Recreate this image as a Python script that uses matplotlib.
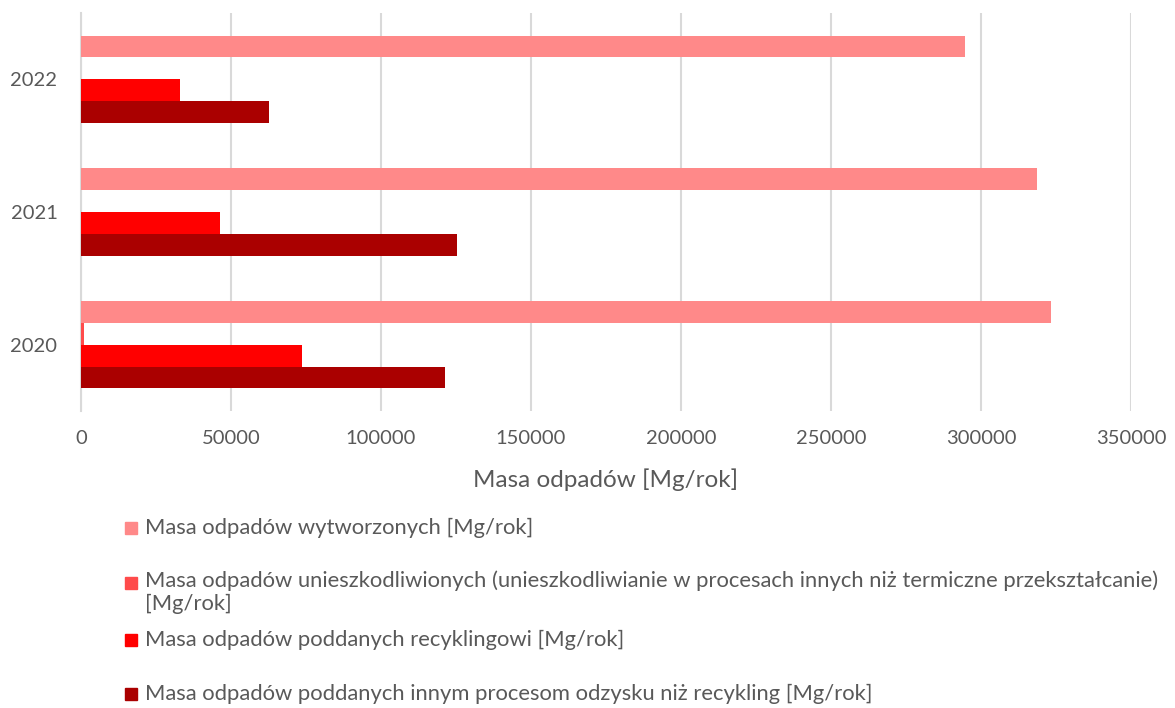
import numpy as np
import matplotlib.pyplot as plt
from matplotlib.patches import Rectangle

# Data
years = ['2020', '2021', '2022']
wytworzone = [323300, 318700, 294700]
unieszkodliwione = [1000, 0, 0]
recykling = [73700, 46300, 33000]
inny_odzysk = [121300, 125300, 62700]

series_labels = [
    'Masa odpadów wytworzonych [Mg/rok]',
    'Masa odpadów unieszkodliwionych (unieszkodliwianie w procesach innych niż termiczne przekształcanie)\n[Mg/rok]',
    'Masa odpadów poddanych recyklingowi [Mg/rok]',
    'Masa odpadów poddanych innym procesom odzysku niż recykling [Mg/rok]',
]
colors = ['#FF8989', '#FF4B4B', '#FF0000', '#AA0000']
xticks = [0, 50000, 100000, 150000, 200000, 250000, 300000, 350000]

plt.rcParams['font.family'] = ['Lato', 'DejaVu Sans']
text_color = '#595959'

fig = plt.figure(figsize=(11.75, 7.08), dpi=100)
ax = fig.add_axes([81 / 1175, 1 - 411 / 708, (1131 - 81) / 1175, (411 - 13) / 708])

y = np.arange(len(years))
bar_h = 0.165
all_series = [wytworzone, unieszkodliwione, recykling, inny_odzysk]
for i, (vals, col) in enumerate(zip(all_series, colors)):
    offset = (1.5 - i) * bar_h
    ax.barh(y + offset, vals, height=bar_h, color=col, zorder=3)

ax.set_ylim(-0.5, 2.5)
ax.set_xlim(0, 350000)
ax.set_xticks(xticks)
ax.set_xticklabels([str(t) for t in xticks])
ax.set_yticks(y)
ax.set_yticklabels(years)
ax.tick_params(axis='both', length=0, labelsize=14.5, colors=text_color)
ax.tick_params(axis='x', pad=14)
ax.tick_params(axis='y', pad=17)
ax.grid(axis='x', color='#D9D9D9', linewidth=1.5, zorder=0)
for s in ['top', 'right', 'bottom']:
    ax.spines[s].set_visible(False)
ax.spines['left'].set_color('#D9D9D9')
ax.spines['left'].set_linewidth(1.5)
ax.set_xlabel('Masa odpadów [Mg/rok]', fontsize=17.5, color=text_color, labelpad=15)

# Legend drawn manually (one entry wraps onto a second line)
row_y = [528, 583, 640, 694]
for lab, col, py in zip(series_labels, colors, row_y):
    fig.patches.append(Rectangle((125 / 1175, 1 - (py + 6) / 708), 12 / 1175, 12 / 708,
                                 transform=fig.transFigure, color=col))
    if '\n' in lab:
        fig.text(145 / 1175, 1 - (py - 13) / 708, lab, fontsize=15.8, color=text_color,
                 va='top', linespacing=1.2)
    else:
        fig.text(145 / 1175, 1 - py / 708, lab, fontsize=15.8, color=text_color, va='center')

fig.savefig('out.png', dpi=100)
